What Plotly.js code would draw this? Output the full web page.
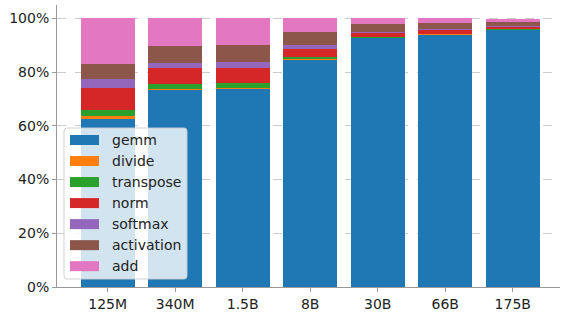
<!DOCTYPE html>
<html><head><meta charset="utf-8">
<script src="https://cdn.plot.ly/plotly-3.0.1.min.js"></script>
<style>html,body{margin:0;padding:0;background:#fff;}#chart{width:563px;height:313px;}</style>
</head><body><div id="chart"></div>
<script>
const categories = ['125M','340M','1.5B','8B','30B','66B','175B'];
const gemm       = [62.5, 73.2, 73.6, 84.4, 92.6, 94.0, 95.6];
const divide     = [1.3, 0.4, 0.4, 0.4, 0.1, 0.05, 0.05];
const transpose  = [2.2, 2.0, 1.8, 0.7, 0.3, 0.2, 0.3];
const norm       = [8.0, 5.8, 5.8, 3.0, 1.5, 1.3, 0.8];
const softmax    = [3.3, 1.9, 2.2, 1.5, 0.4, 0.5, 0.3];
const activation = [5.6, 6.3, 6.4, 4.8, 3.0, 2.1, 1.8];
const add        = [17.1, 10.4, 10.0, 5.2, 2.2, 1.9, 1.1];

const seriesNames = ['gemm','divide','transpose','norm','softmax','activation','add'];
const seriesData = [gemm, divide, transpose, norm, softmax, activation, add];
const colors = ['#1f77b4','#ff7f0e','#2ca02c','#d62728','#9467bd','#8c564b','#e377c2'];

const traces = seriesNames.map((n,i)=>({
  type:'bar', name:n, x:categories, y:seriesData[i],
  marker:{color:colors[i], line:{width:0}}, width:0.8,
  hoverinfo:'skip', showlegend:false
}));

// plot area in pixels
const W=563, H=313, L=57, R=3, T=5, B=26;
const pw=W-L-R, ph=H-T-B;
const px=(x)=>(x-L)/pw;
const py=(y)=>(H-B-y)/ph;

// legend box (matplotlib-style), drawn as paper shapes + annotations
const shapes=[];
const annotations=[];
const bx0=64, bx1=187, by0=128, by1=279, rad=3;
const rx=rad/pw, ry=rad/ph;
const X0=px(bx0), X1=px(bx1), Y0=py(by0), Y1=py(by1);
shapes.push({type:'path', xref:'paper', yref:'paper', layer:'above',
  path:`M ${X0+rx},${Y0} L ${X1-rx},${Y0} Q ${X1},${Y0} ${X1},${Y0-ry} L ${X1},${Y1+ry} Q ${X1},${Y1} ${X1-rx},${Y1} L ${X0+rx},${Y1} Q ${X0},${Y1} ${X0},${Y1+ry} L ${X0},${Y0-ry} Q ${X0},${Y0} ${X0+rx},${Y0} Z`,
  fillcolor:'rgba(255,255,255,0.8)', line:{color:'rgba(204,204,204,0.9)', width:1}});
seriesNames.forEach((n,i)=>{
  const cy = 140 + i*21.03;
  shapes.push({type:'rect', xref:'paper', yref:'paper', layer:'above',
    x0:px(70), x1:px(99), y0:py(cy-5), y1:py(cy+5),
    fillcolor:colors[i], line:{width:0}});
  annotations.push({xref:'paper', yref:'paper', x:px(110), y:py(cy), xanchor:'left', yanchor:'middle',
    text:n, showarrow:false, font:{family:'DejaVu Sans', size:14, color:'#222'}});
});

const layout = {
  width:W, height:H,
  margin:{l:L, r:R, t:T, b:B},
  barmode:'stack',
  paper_bgcolor:'#fff', plot_bgcolor:'#fff',
  font:{family:'DejaVu Sans', size:14, color:'#222'},
  showlegend:false,
  shapes:shapes, annotations:annotations,
  xaxis:{type:'category', range:[-0.75, 6.7], showgrid:false, zeroline:false,
    showline:true, linecolor:'#999', linewidth:1, ticks:'outside', ticklen:4, tickcolor:'#999',
    tickfont:{size:14, color:'#222'}},
  yaxis:{range:[0,105], tickvals:[0,20,40,60,80,100], ticktext:['0%','20%','40%','60%','80%','100%'],
    showgrid:true, gridcolor:'#ccc', griddash:'dash', gridwidth:1, zeroline:false,
    showline:true, linecolor:'#999', linewidth:1, ticks:'outside', ticklen:4, tickcolor:'#999',
    tickfont:{size:14, color:'#222'}}
};
Plotly.newPlot('chart', traces, layout, {staticPlot:true, displayModeBar:false});
</script></body></html>
